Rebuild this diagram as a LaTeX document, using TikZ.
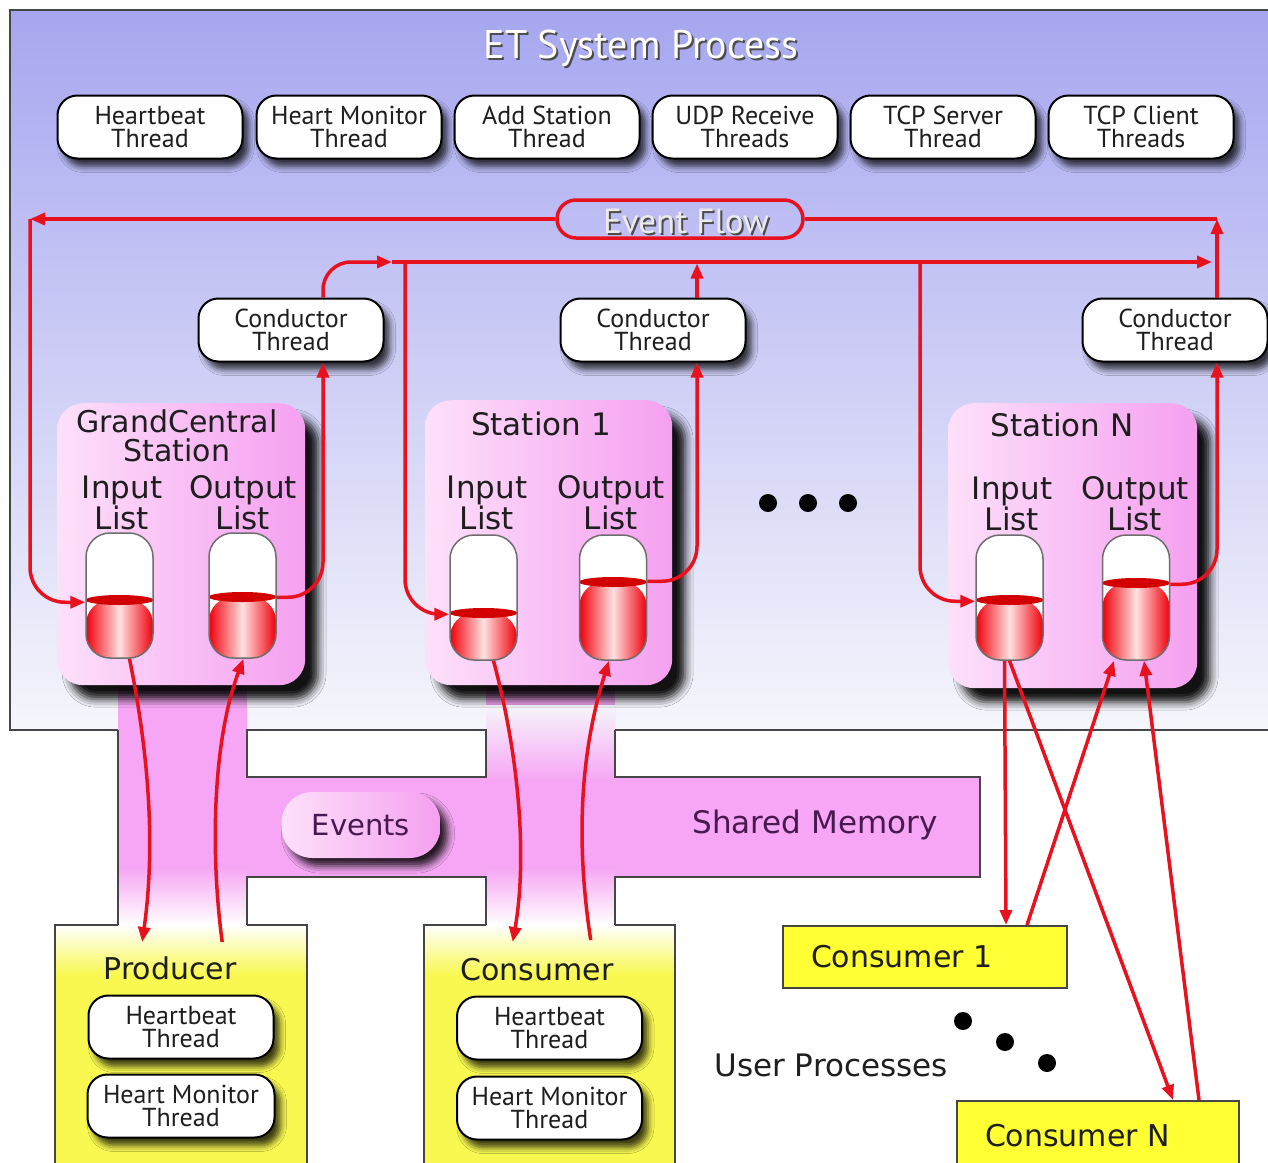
\documentclass[tikz,border=0pt]{standalone}
\usepackage{fontspec}
\setmainfont{PT Sans}
\newfontfamily\dvs{DejaVu Sans}
\usetikzlibrary{arrows.meta,shadows.blur}
\definecolor{etred}{RGB}{232,18,30}
\definecolor{bgtop}{RGB}{166,166,240}
\definecolor{bgbot}{RGB}{246,246,252}
\definecolor{smpink}{RGB}{246,166,244}
\definecolor{stlight}{RGB}{253,224,250}
\definecolor{stdark}{RGB}{245,160,240}
\definecolor{uyellow}{RGB}{248,248,80}
\definecolor{cyellow}{RGB}{255,255,51}
\definecolor{capred}{RGB}{240,0,10}
\definecolor{caphl}{RGB}{255,225,225}
\definecolor{capdark}{RGB}{210,0,0}
\definecolor{capedge}{RGB}{110,110,110}
\definecolor{edge}{RGB}{70,70,70}
\definecolor{txt}{RGB}{30,30,30}
\definecolor{smtxt}{RGB}{70,25,80}
\begin{document}
\begin{tikzpicture}[x=1pt,y=-1pt,
  thread/.style={draw=black, line width=2pt, fill=white, rounded corners=20pt,
    minimum width=185pt, minimum height=63pt, align=center, inner sep=0pt,
    font=\fontsize{26}{23.5}\selectfont, text=txt,
    blur shadow={shadow xshift=6pt, shadow yshift=-8pt, shadow blur radius=6pt, shadow opacity=75}},
  station/.style={rounded corners=26pt, left color=stlight, right color=stdark,
    anchor=north west, inner sep=0pt,
    blur shadow={shadow xshift=13pt, shadow yshift=-14pt, shadow blur radius=8pt, shadow opacity=92}},
  stlabel/.style={font=\dvs\fontsize{31}{29.5}\selectfont, text=txt, align=center, inner sep=0pt},
  capsule/.style={draw=capedge, line width=1.5pt, fill=white, rounded corners=24pt,
    minimum width=67pt, minimum height=125pt, inner sep=0pt,
    path picture={
      \shade[left color=capred, right color=capred, middle color=caphl]
        ([yshift=-#1]path picture bounding box.north west) rectangle (path picture bounding box.south east);
      \fill[capdark] ([yshift=-#1]path picture bounding box.north) ellipse [x radius=34pt, y radius=5pt];
    }},
  redflow/.style={draw=etred, line width=3.5pt, rounded corners=35pt},
  arr/.style={-{Triangle[length=15pt,width=12pt]}},
  edgeline/.style={draw=edge, line width=2pt},
  blackdot/.style={circle, fill=black, minimum size=18pt, inner sep=0pt},
  ubox/.style={draw=edge, line width=2pt, fill=cyellow, anchor=north west, minimum height=62pt,
    inner xsep=28pt, inner ysep=0pt, align=left, font=\dvs\fontsize{30}{30}\selectfont, text=txt},
  embossed/.style={font=\fontsize{#1}{#1}\selectfont, inner sep=0pt}
]
\useasboundingbox (0,0) rectangle (1268,1162);
% ET system background
\shade[top color=bgtop, bottom color=bgbot] (10,10) rectangle (1275,730);
% shared memory region
\fill[smpink] (118,685) -- (247,685) -- (247,777) -- (486,777) -- (486,685) -- (615,685)
  -- (615,777) -- (980,777) -- (980,877) -- (615,877) -- (615,925) -- (486,925)
  -- (486,877) -- (247,877) -- (247,925) -- (118,925) -- cycle;
\shade[top color=bgbot, bottom color=smpink] (486,705) rectangle (615,780);
\shade[top color=smpink, bottom color=white] (118,868) rectangle (247,925);
\shade[top color=smpink, bottom color=white] (486,868) rectangle (615,925);
% outlines
\draw[edgeline] (1275,10) -- (10,10) -- (10,730) -- (118,730);
\draw[edgeline] (615,730) -- (1275,730);
\draw[edgeline] (118,730) -- (118,925);
\draw[edgeline] (247,730) -- (247,777) -- (486,777) -- (486,730) -- cycle;
\draw[edgeline] (615,730) -- (615,777) -- (980,777) -- (980,877) -- (615,877) -- (615,925);
\draw[edgeline] (247,925) -- (247,877) -- (486,877) -- (486,925);
% producer and consumer processes
\node[fill=uyellow, anchor=north west, minimum width=252pt, minimum height=250pt, inner sep=0pt] (prod) at (55,925) {};
\shade[top color=white, bottom color=uyellow] (prod.north west) rectangle ([yshift=-50pt]prod.north east);
\draw[edgeline] (118,925) -- (prod.north west) -- (prod.south west);
\draw[edgeline] (247,925) -- (prod.north east) -- (prod.south east);
\node[fill=uyellow, anchor=north west, minimum width=251pt, minimum height=250pt, inner sep=0pt] (cons) at (424,925) {};
\shade[top color=white, bottom color=uyellow] (cons.north west) rectangle ([yshift=-50pt]cons.north east);
\draw[edgeline] (486,925) -- (cons.north west) -- (cons.south west);
\draw[edgeline] (615,925) -- (cons.north east) -- (cons.south east);
% events pill and label
\node[rounded corners=31pt, minimum width=159pt, minimum height=66pt, inner sep=0pt,
  left color=stlight, right color=stdark,
  blur shadow={shadow xshift=7pt, shadow yshift=-8pt, shadow blur radius=7pt, shadow opacity=85},
  font=\dvs\fontsize{29}{29}\selectfont, text=smtxt] (events) at (361,825) {Events};
\node[font=\dvs\fontsize{31}{31}\selectfont, text=smtxt, inner sep=0pt] (smlabel) at (815,825) {Shared Memory};
% stations
\node[station, minimum width=248pt, minimum height=282pt] (gc) at (57,403) {};
\node[station, minimum width=247pt, minimum height=285pt] (st1) at (425,400) {};
\node[station, minimum width=249pt, minimum height=285pt] (stN) at (948,403) {};
\node[stlabel, font=\dvs\fontsize{30}{28.5}\selectfont] (gc-t) at (177,436) {GrandCentral\\Station};
\node[stlabel] (gc-in) at (122,503) {Input\\List};
\node[stlabel] (gc-out) at (243,503) {Output\\List};
\node[stlabel] (st1-t) at (541,424) {Station 1};
\node[stlabel] (st1-in) at (487,503) {Input\\List};
\node[stlabel] (st1-out) at (611,503) {Output\\List};
\node[stlabel] (stN-t) at (1062,425) {Station N};
\node[stlabel] (stN-in) at (1012,504) {Input\\List};
\node[stlabel] (stN-out) at (1135,504) {Output\\List};
% list capsules
\node[capsule=67pt] (gcin) at (119.5,595.5) {};
\node[capsule=64pt] (gcout) at (242.5,595.5) {};
\node[capsule=78pt] (s1in) at (483.5,597.5) {};
\node[capsule=47pt] (s1out) at (613,597.5) {};
\node[capsule=65pt] (sNin) at (1009.5,597.5) {};
\node[capsule=48pt] (sNout) at (1136,597.5) {};
% ellipsis dots
\node[blackdot] (d1) at (768,503) {};
\node[blackdot] (d2) at (808,503) {};
\node[blackdot] (d3) at (848,503) {};
% title
\node[embossed=40, text=black!70] (title-sh) at (643,50) {ET System Process};
\node[embossed=40, text=white] (title) at (641,48) {ET System Process};
% top threads
\node[thread] (hb) at (150,127) {Heartbeat\\Thread};
\node[thread] (hm) at (349,127) {Heart Monitor\\Thread};
\node[thread] (as) at (547,127) {Add Station\\Thread};
\node[thread] (udp) at (745,127) {UDP Receive\\Threads};
\node[thread] (tcps) at (943,127) {TCP Server\\Thread};
\node[thread] (tcpc) at (1141,127) {TCP Client\\Threads};
% conductors
\node[thread] (cGC) at (291,330) {Conductor\\Thread};
\node[thread] (c1) at (653,330) {Conductor\\Thread};
\node[thread] (cN) at (1175,330) {Conductor\\Thread};
% event flow
\node[draw=etred, line width=3.5pt, rounded corners=19pt, minimum width=246pt, minimum height=38pt, inner sep=0pt] (ef) at (680,219) {};
\node[embossed=35, text=black!70] (ef-sh) at (688,223) {Event Flow};
\node[embossed=35, text=white!92!black] (ef-t) at (686,221) {Event Flow};
\coordinate (efL) at (30,219);
\coordinate (efR) at (1217,219);
\coordinate (busL) at (392,262);
\coordinate (busR) at (1212,262);
\coordinate (br1) at (405,262);
\coordinate (br2) at (920,262);
\draw[redflow, arr] (ef.west) -- (efL);
\draw[redflow, arr] (efL) |- ([yshift=-70pt]gcin.north west);
\draw[redflow] (efR) -- (ef.east);
\draw[redflow, arr] ([xshift=42pt]cN.north) -- (efR);
\draw[redflow, rounded corners=28pt, arr] ([xshift=32pt]cGC.north) |- (busL);
\draw[redflow, arr] (busL) -- (busR);
\draw[redflow, arr] (br1) |- ([yshift=-80pt]s1in.north west);
\draw[redflow, arr] (br2) |- ([yshift=-67pt]sNin.north west);
\draw[redflow, arr] ([xshift=44pt]c1.north) -- ([xshift=44pt,yshift=34pt]c1.north);
\draw[redflow, arr] ([yshift=-65pt]gcout.north east) -| ([xshift=32pt]cGC.south);
\draw[redflow, arr] ([yshift=-47pt]s1out.north east) -| ([xshift=44pt]c1.south);
\draw[redflow, arr] ([yshift=-50pt]sNout.north east) -| ([xshift=42pt]cN.south);
% process threads
\node[font=\dvs\fontsize{30}{30}\selectfont, text=txt, inner sep=0pt] (prod-t) at (170,968) {Producer};
\node[thread] (phb) at (181,1027) {Heartbeat\\Thread};
\node[thread, minimum width=187pt] (phm) at (181,1106) {Heart Monitor\\Thread};
\node[font=\dvs\fontsize{30}{30}\selectfont, text=txt, inner sep=0pt] (cons-t) at (537,970) {Consumer};
\node[thread] (chb) at (549.5,1028) {Heartbeat\\Thread};
\node[thread] (chm) at (549.5,1108) {Heart Monitor\\Thread};
% user consumers
\node[ubox, text width=228pt] (c1b) at (782,925) {Consumer 1};
\node[ubox, text width=226pt, minimum height=70pt] (cNb) at (956,1100) {Consumer N};
\node[font=\dvs\fontsize{31}{31}\selectfont, text=txt, inner sep=0pt] (up) at (831,1065) {User Processes};
\node[blackdot] (e1) at (963,1021) {};
\node[blackdot] (e2) at (1005,1042) {};
\node[blackdot] (e3) at (1047,1063) {};
% shared memory traffic
\draw[redflow, arr] ([xshift=10pt]gcin.south) .. controls (150,760) and (155,850) .. ([xshift=-39pt,yshift=-17pt]prod.north);
\draw[redflow, arr] ([xshift=41pt,yshift=-17pt]prod.north) .. controls (210,850) and (213,740) .. ([xshift=1pt]gcout.south);
\draw[redflow, arr] ([xshift=10pt]s1in.south) .. controls (520,760) and (527,860) .. ([xshift=-37pt,yshift=-17pt]cons.north);
\draw[redflow, arr] ([xshift=41pt,yshift=-15pt]cons.north) .. controls (577,850) and (578,760) .. ([xshift=-4pt]s1out.south);
\draw[redflow, arr] ([xshift=-5pt]sNin.south) -- ([xshift=81pt]c1b.north);
\draw[redflow, arr] ([xshift=102pt]c1b.north) -- ([xshift=-22pt]sNout.south);
\draw[redflow, arr] (sNin.south) -- ([xshift=75pt]cNb.north);
\draw[redflow, arr] ([xshift=101pt]cNb.north) -- ([xshift=8pt]sNout.south);
\end{tikzpicture}
\end{document}
